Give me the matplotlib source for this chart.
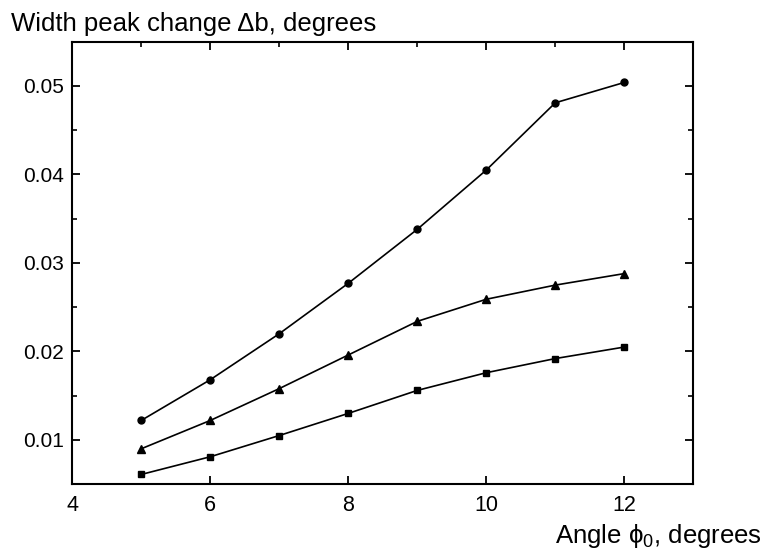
import matplotlib.pyplot as plt
from matplotlib.ticker import MultipleLocator

plt.rcParams['font.family'] = ['Liberation Sans', 'DejaVu Sans']
plt.rcParams['mathtext.fontset'] = 'custom'
plt.rcParams['mathtext.rm'] = 'Liberation Sans'
plt.rcParams['mathtext.it'] = 'Liberation Sans'

# angle phi0 (degrees)
angles = [5, 6, 7, 8, 9, 10, 11, 12]

# width peak change (degrees), one list per curve
circles = [0.0122, 0.0168, 0.0220, 0.0277, 0.0338, 0.0405, 0.0481, 0.0504]
triangles = [0.0090, 0.0122, 0.0158, 0.0196, 0.0234, 0.0259, 0.0275, 0.0288]
squares = [0.0061, 0.0081, 0.0105, 0.0130, 0.0156, 0.0176, 0.0192, 0.0205]

x_ticks = [4, 6, 8, 10, 12]
y_ticks = [0.01, 0.02, 0.03, 0.04, 0.05]

fig = plt.figure(figsize=(7.67, 5.49), dpi=100)
ax = fig.add_axes([0.094, 0.118, 0.810, 0.806])

ax.plot(angles, circles, color='black', lw=1.2, marker='o', ms=5)
ax.plot(angles, triangles, color='black', lw=1.2, marker='^', ms=5.5)
ax.plot(angles, squares, color='black', lw=1.2, marker='s', ms=4.5)

ax.set_xlim(4, 13)
ax.set_ylim(0.005, 0.055)
ax.set_xticks(x_ticks)
ax.set_yticks(y_ticks)
ax.set_yticklabels(['%.2f' % v for v in y_ticks])
ax.xaxis.set_minor_locator(MultipleLocator(1))
ax.yaxis.set_minor_locator(MultipleLocator(0.005))

for s in ax.spines.values():
    s.set_linewidth(1.5)

ax.tick_params(which='major', direction='in', length=6, width=1.3,
               top=True, right=True, labelsize=15.5, pad=8)
ax.tick_params(which='minor', direction='in', length=3.5, width=1.2,
               top=True, right=True, bottom=False)
ax.tick_params(axis='y', labelsize=15, pad=6)

# axis titles sit outside the box like in the original print
fig.text(11 / 767, 1 - 31 / 549, 'Width peak change \u0394b, degrees',
         fontsize=18.5, ha='left', va='baseline')
fig.text(762 / 767, 1 - 543 / 549, 'Angle \u03d5$_0$, degrees',
         fontsize=18.5, ha='right', va='baseline')

plt.savefig('out.png', dpi=100)
